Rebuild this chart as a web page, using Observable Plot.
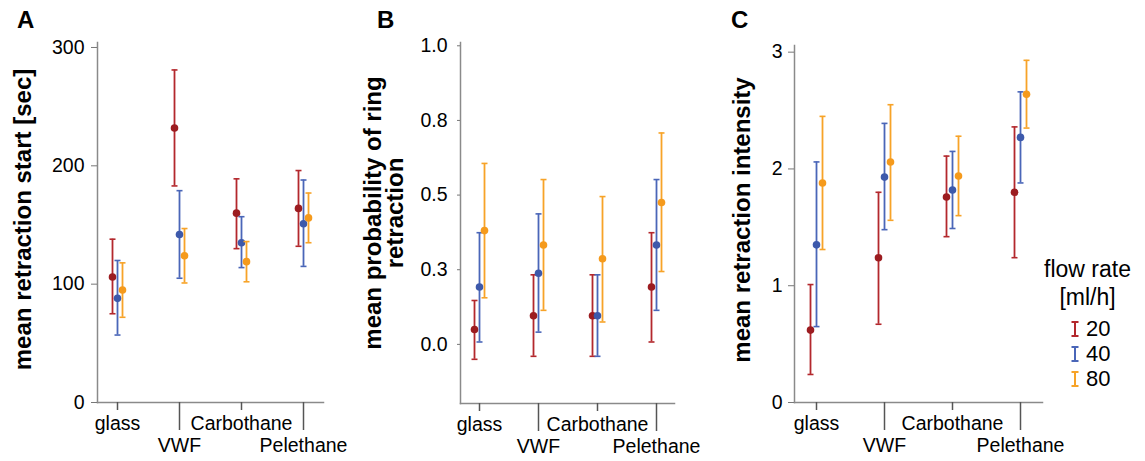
<!DOCTYPE html>
<html>
<head>
<meta charset="utf-8">
<script src="https://cdn.jsdelivr.net/npm/d3@7"></script>
<script src="https://cdn.jsdelivr.net/npm/@observablehq/plot@0.6"></script>
<style>
  html, body { margin: 0; padding: 0; background: white; }
  #fig { position: relative; width: 1145px; height: 461px; font-family: "Liberation Sans", Arial, sans-serif; color: black; overflow: hidden; }
  .pnl { position: absolute; top: 0; }
  .letter { position: absolute; font-weight: bold; font-size: 24px; line-height: 1; }
  #legend { position: absolute; left: 1030px; top: 255px; width: 115px; font-size: 23px; text-align: center; line-height: 28px; }
  .item { display: flex; align-items: center; justify-content: flex-start; height: 25px; padding-left: 40px; font-size: 22px; }
  .item svg { margin-right: 6px; }
</style>
</head>
<body>
<div id="fig"></div>
<script>
// ---------- data ----------
const categories = ["glass", "VWF", "Carbothane", "Pelethane"];
const flowRates = ["20", "40", "80"];
const lineColors = ["#b3282d", "#4a66b8", "#f7a328"];
const dotColors = ["#9c1c20", "#3d59ab", "#f59a1c"];

// Panel A: mean retraction start [sec]  (rows: 20, 40, 80 ml/h)
const startMean = [[106, 232, 160, 164], [88, 142, 135, 151], [95, 124, 119, 156]];
const startLow  = [[75, 183, 130, 132],  [57, 105, 114, 115], [72, 101, 102, 135]];
const startHigh = [[138, 281, 189, 196], [120, 179, 157, 188], [118, 147, 136, 177]];
const startTicks = [0, 100, 200, 300];
const startTickLabels = ["0", "100", "200", "300"];

// Panel B: mean probability of ring retraction
const probMean = [[0.05, 0.096, 0.096, 0.192], [0.192, 0.238, 0.096, 0.333], [0.381, 0.333, 0.287, 0.475]];
const probLow  = [[-0.05, -0.04, -0.04, 0.008], [0.008, 0.041, -0.04, 0.114], [0.156, 0.114, 0.075, 0.244]];
const probHigh = [[0.147, 0.233, 0.233, 0.374], [0.374, 0.437, 0.233, 0.552], [0.606, 0.552, 0.495, 0.708]];
const probTicks = [0, 0.25, 0.5, 0.75, 1];
const probTickLabels = ["0.0", "0.3", "0.5", "0.8", "1.0"];

// Panel C: mean retraction intensity
const intMean = [[0.62, 1.24, 1.76, 1.80], [1.35, 1.93, 1.82, 2.27], [1.88, 2.06, 1.94, 2.64]];
const intLow  = [[0.24, 0.67, 1.42, 1.24], [0.65, 1.48, 1.49, 1.88], [1.31, 1.56, 1.60, 2.35]];
const intHigh = [[1.01, 1.80, 2.11, 2.36], [2.06, 2.39, 2.15, 2.66], [2.45, 2.55, 2.28, 2.93]];
const intTicks = [0, 1, 2, 3];
const intTickLabels = ["0", "1", "2", "3"];

// ---------- drawing ----------
const capSymbol = { draw(ctx) { ctx.moveTo(-3, 0); ctx.lineTo(3, 0); } };
const FONT = "'Liberation Sans', Arial, sans-serif";

function panel(o) {
  const marks = [];
  flowRates.forEach((rate, s) => {
    const rows = categories.map((cat, i) => ({cat, rate, mean: o.means[s][i], low: o.lows[s][i], high: o.highs[s][i]}));
    const dx = (s - 1) * o.offset;
    marks.push(
      Plot.ruleX(rows, {x: "cat", y1: "low", y2: "high", stroke: lineColors[s], strokeWidth: 1.8, dx}),
      Plot.dot(rows, {x: "cat", y: "low", symbol: capSymbol, stroke: lineColors[s], fill: "none", strokeWidth: 1.6, dx}),
      Plot.dot(rows, {x: "cat", y: "high", symbol: capSymbol, stroke: lineColors[s], fill: "none", strokeWidth: 1.6, dx}),
      Plot.dot(rows, {x: "cat", y: "mean", r: 3.8, fill: dotColors[s], stroke: "none", dx})
    );
  });
  return Plot.plot({
    width: o.width,
    height: 461,
    marginLeft: o.marginLeft,
    marginRight: o.marginRight,
    marginTop: o.marginTop,
    marginBottom: o.marginBottom,
    style: {background: "transparent", overflow: "visible", fontFamily: FONT, color: "black"},
    x: {type: "point", domain: categories, padding: 0.3, label: null},
    y: {domain: o.yDomain, label: null},
    marks: [
      Plot.frame({anchor: "left", stroke: "#8a8a8a", strokeWidth: 1.5}),
      Plot.frame({anchor: "bottom", stroke: "#8a8a8a", strokeWidth: 1.5}),
      Plot.axisY({ticks: o.yTicks, tickFormat: d => o.yLabels[o.yTicks.indexOf(d)], tickSize: o.yTickSize, tickPadding: o.yTickPadding, fontSize: 19.5, stroke: "#777", fill: "black", label: null}),
      Plot.axisX({ticks: [categories[0], categories[2]], tickSize: 8, tickPadding: 6, fontSize: 19.5, stroke: "#555", strokeWidth: 1.5, fill: "black", label: null}),
      Plot.axisX({ticks: [categories[1], categories[3]], tickSize: 28, tickPadding: 8, fontSize: 19.5, stroke: "#555", strokeWidth: 1.5, fill: "black", label: null}),
      Plot.text([o.title], {text: d => d, frameAnchor: "left", rotate: -90, textAnchor: "middle", lineAnchor: "middle", lineHeight: 0.92, dx: o.titleDx, dy: o.titleDy, fontSize: 24, fontWeight: "bold", fill: "black"}),
      ...marks
    ]
  });
}

const fig = document.getElementById("fig");
function place(svg, left, width) {
  const d = document.createElement("div");
  d.className = "pnl";
  d.style.left = left + "px";
  d.style.width = width + "px";
  d.appendChild(svg);
  fig.appendChild(d);
}

place(panel({
  width: 355, marginLeft: 97, marginRight: 32, marginTop: 42, marginBottom: 59,
  yDomain: [0, 304.2], yTicks: startTicks, yLabels: startTickLabels, yTickSize: 6, yTickPadding: 7,
  means: startMean, lows: startLow, highs: startHigh, offset: 5,
  title: "mean retraction start [sec]", titleDx: -74, titleDy: -3
}), 0, 355);

place(panel({
  width: 370, marginLeft: 110, marginRight: 46, marginTop: 42, marginBottom: 58,
  yDomain: [-0.198, 1.011], yTicks: probTicks, yLabels: probTickLabels, yTickSize: 3, yTickPadding: 10,
  means: probMean, lows: probLow, highs: probHigh, offset: 5,
  title: "mean probability of ring\nretraction", titleDx: -76, titleDy: -10
}), 350, 370);

place(panel({
  width: 425, marginLeft: 74, marginRight: 103, marginTop: 45, marginBottom: 59,
  yDomain: [0, 3.057], yTicks: intTicks, yLabels: intTickLabels, yTickSize: 6, yTickPadding: 6,
  means: intMean, lows: intLow, highs: intHigh, offset: 6,
  title: "mean retraction intensity", titleDx: -52, titleDy: -4
}), 720, 425);

// panel letters
[["A", 17], ["B", 377], ["C", 731]].forEach(([t, x]) => {
  const d = document.createElement("div");
  d.className = "letter";
  d.style.left = x + "px";
  d.style.top = "8px";
  d.textContent = t;
  fig.appendChild(d);
});

// legend
const leg = document.createElement("div");
leg.id = "legend";
leg.innerHTML = "<div>flow rate</div><div>[ml/h]</div><div style='height:5px'></div>";
flowRates.forEach((r, s) => {
  const it = document.createElement("div");
  it.className = "item";
  it.innerHTML = `<svg width="10" height="16"><line x1="5" x2="5" y1="1" y2="15" stroke="${lineColors[s]}" stroke-width="2"/><line x1="1.5" x2="8.5" y1="1" y2="1" stroke="${lineColors[s]}" stroke-width="2"/><line x1="1.5" x2="8.5" y1="15" y2="15" stroke="${lineColors[s]}" stroke-width="2"/></svg><span>${r}</span>`;
  leg.appendChild(it);
});
fig.appendChild(leg);
</script>
</body>
</html>
